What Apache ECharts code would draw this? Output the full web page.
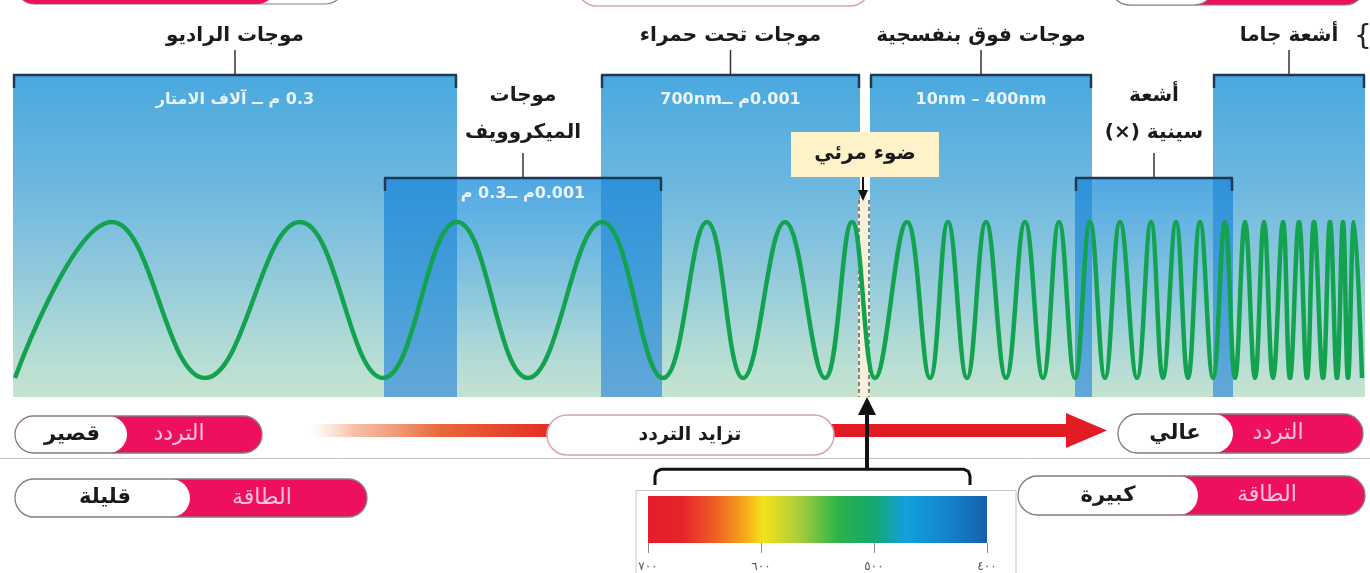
<!DOCTYPE html>
<html><head><meta charset="utf-8">
<script src="https://cdn.jsdelivr.net/npm/echarts@6/dist/echarts.min.js"></script>
<style>html,body{margin:0;padding:0;background:#fff}#c{width:1370px;height:573px}</style>
</head><body><div id="c"></div>
<script>
// ---------------- data ----------------
const bandNames  = ['موجات الراديو', 'موجات\nالميكروويف', 'موجات تحت حمراء', 'موجات فوق بنفسجية', 'أشعة\nسينية (×)', 'أشعة جاما'];
const bandRanges = ['0.3 م ــ آلاف الامتار', '0.001م ــ0.3 م', '0.001م ــ700nm', '10nm – 400nm', '', ''];
const bandStart  = [13, 384, 601, 870, 1075, 1213];
const bandEnd    = [457, 662, 860, 1092, 1233, 1365];
const bandTier   = [0, 1, 0, 0, 1, 0];
const visibleBand  = [858, 870];
const visibleLabel = 'ضوء مرئي';
const crestX  = [112, 300, 457, 602, 707, 785, 852, 907, 948, 986, 1025, 1059, 1090, 1120, 1151, 1176, 1200, 1225, 1245, 1264, 1283, 1299, 1314, 1330, 1343, 1354];
const troughX = [15, 205, 383, 528, 663, 743, 825, 875, 930, 967, 1006, 1043, 1075, 1105, 1137, 1163, 1188, 1213, 1235, 1255, 1273, 1290, 1307, 1323, 1337, 1348, 1362];
const spectrumTicks = [700, 600, 500, 400];
const rowTitles  = ['التردد', 'الطاقة'];
const lowValues  = ['قصير', 'قليلة'];
const highValues = ['عالي', 'كبيرة'];
const trendLabel = 'تزايد التردد';

// ---------------- layout / style ----------------
const W = 1370, H = 573;
const tierTop = [75, 178];
const bandBottom = 397;
const FONT = "'DejaVu Sans', 'Noto Sans', sans-serif";
const PINK = '#ee0f5e';
const rtl = s => s.split('\n').map(l => '\u202B' + l + '\u202C').join('\n');
const arDigits = v => String(v).replace(/\d/g, d => '٠١٢٣٤٥٦٧٨٩'[d]);
const LG = (x, y, x2, y2, stops, g) => ({type:'linear', x, y, x2, y2, colorStops:stops, global:!!g});

const upperStops = [{offset:0,color:'#4aa8de'},{offset:0.35,color:'#6db8e0'},{offset:0.6,color:'#8fc8dc'},{offset:0.85,color:'#b2dbd5'},{offset:1,color:'#c6e4d0'}];
const lowerStops = [{offset:0,color:'#4ea8e4'},{offset:0.4,color:'#7cbfe0'},{offset:0.8,color:'#afd9d7'},{offset:1,color:'#c3e2d2'}];
const overlapStops = [{offset:0,color:'#2f92da'},{offset:0.5,color:'#449ed9'},{offset:1,color:'#62a8d8'}];
const spectrumStops = [
  {offset:0,color:'#e31d2a'},{offset:0.1,color:'#e6232a'},{offset:0.2,color:'#ef5f24'},{offset:0.27,color:'#f49a1c'},
  {offset:0.34,color:'#f4e21a'},{offset:0.45,color:'#a5cd3b'},{offset:0.56,color:'#2cb34a'},{offset:0.66,color:'#15a86a'},
  {offset:0.76,color:'#11a0dc'},{offset:0.88,color:'#1484cf'},{offset:1,color:'#1560aa'}];

// ---------------- derived ----------------
const bandData = bandStart.map((s, i) => [s, bandEnd[i], bandTier[i], i]);
const overlapData = [];
for (let i = 0; i < bandStart.length; i++) for (let j = i + 1; j < bandStart.length; j++) {
  const a = Math.max(bandStart[i], bandStart[j]), b = Math.min(bandEnd[i], bandEnd[j]);
  if (b > a && bandTier[i] !== bandTier[j]) overlapData.push([a, b]);
}
const wavePts = crestX.map(x => [x, 1]).concat(troughX.map(x => [x, -1])).sort((p, q) => p[0] - q[0]);

function rectFrom(api, x0, y0, x1, y1) {
  const p0 = api.coord([x0, y0]), p1 = api.coord([x1, y1]);
  return {x: p0[0], y: p0[1], width: p1[0] - p0[0], height: p1[1] - p0[1]};
}

// ---------------- decorations (graphic) ----------------
const G = [];
function pill(x, y, w, h, whiteW, whiteText, pinkText, whiteCx, pinkCx) {
  const r = h / 2;
  G.push({type:'rect', z:50, shape:{x, y, width:w, height:h, r}, style:{fill:PINK}});
  G.push({type:'rect', z:51, shape:{x, y, width:whiteW, height:h, r}, style:{fill:'#fff'}});
  G.push({type:'rect', z:52, shape:{x, y, width:w, height:h, r}, style:{fill:'none', stroke:'#8a7a80', lineWidth:1.3}});
  if (whiteText) G.push({type:'text', z:53, style:{text:rtl(whiteText), x:whiteCx, y:y + h/2, fill:'#1a1a1a', font:`bold 21px ${FONT}`, align:'center', verticalAlign:'middle'}});
  if (pinkText) G.push({type:'text', z:53, style:{text:rtl(pinkText), x:pinkCx, y:y + h/2, fill:'#fbc3d4', font:`22px ${FONT}`, align:'center', verticalAlign:'middle'}});
}
// separator line
G.push({type:'line', z:10, shape:{x1:0, y1:458.5, x2:W, y2:458.5}, style:{stroke:'#c4c4c4', lineWidth:1}});
// cut-off pills at the very top
G.push({type:'rect', z:50, shape:{x:15, y:-36, width:330, height:40, r:20}, style:{fill:'#fff', stroke:'#8a7a80', lineWidth:1.2}});
G.push({type:'rect', z:51, shape:{x:15, y:-36, width:262, height:40, r:20}, style:{fill:PINK}});
G.push({type:'rect', z:50, shape:{x:577, y:-34, width:293, height:40, r:20}, style:{fill:'#fff', stroke:'#d6a4b2', lineWidth:1.5}});
G.push({type:'rect', z:50, shape:{x:1110, y:-35, width:255, height:40, r:20}, style:{fill:PINK, stroke:'#8a7a80', lineWidth:1.2}});
G.push({type:'rect', z:51, shape:{x:1110, y:-35, width:104, height:40, r:20}, style:{fill:'#fff', stroke:'#8a7a80', lineWidth:1.2}});
G.push({type:'text', z:53, style:{text:'{', x:1363, y:38, fill:'#222', font:`28px ${FONT}`, align:'center', verticalAlign:'middle'}});
// red "increasing frequency" arrow
G.push({type:'rect', z:40, shape:{x:310, y:424, width:760, height:13}, style:{fill:LG(310, 0, 600, 0, [
  {offset:0,color:'rgba(245,190,150,0)'},{offset:0.15,color:'rgba(240,150,110,0.6)'},{offset:0.45,color:'#e8683a'},{offset:0.85,color:'#e42a24'},{offset:1,color:'#e31b23'}], true)}});
G.push({type:'polygon', z:40, shape:{points:[[1066,413],[1107,430.5],[1066,448]]}, style:{fill:'#e31b23'}});
G.push({type:'rect', z:50, shape:{x:547, y:415, width:287, height:40, r:20}, style:{fill:'#fff', stroke:'#d8a2b2', lineWidth:1.5}});
G.push({type:'text', z:53, style:{text:rtl(trendLabel), x:690, y:435, fill:'#1a1a1a', font:`bold 19px ${FONT}`, align:'center', verticalAlign:'middle'}});
// pills
pill(15, 416, 247, 37, 112, lowValues[0], rowTitles[0], 72, 179);
pill(15, 479, 352, 38, 175, lowValues[1], rowTitles[1], 105, 262);
pill(1118, 414, 245, 39, 115, highValues[0], rowTitles[0], 1175, 1278);
pill(1018, 476, 347, 39, 180, highValues[1], rowTitles[1], 1108, 1267);
// spectrum frame, bracket and black arrow
G.push({type:'rect', z:1, shape:{x:636, y:490.5, width:380, height:100}, style:{fill:'none', stroke:'#c6c6c6', lineWidth:1}});
G.push({type:'polyline', z:60, shape:{points:[[655,485],[655,476],[656.5,471.5],[661,469.3],[964,469.3],[968.5,471.5],[970,476],[970,485]]}, style:{fill:'none', stroke:'#111', lineWidth:3}});
G.push({type:'line', z:60, shape:{x1:867, y1:469, x2:867, y2:412}, style:{stroke:'#111', lineWidth:4}});
G.push({type:'polygon', z:60, shape:{points:[[858,415],[867,397],[876,415]]}, style:{fill:'#111'}});

// ---------------- chart ----------------
const chart = echarts.init(document.getElementById('c'));
chart.setOption({
  animation: false,
  backgroundColor: '#fff',
  grid: [
    {left:0, right:0, top:0, bottom:0},
    {left:0, right:0, top:222, height:156},
    {left:648, top:496, width:339, height:49}
  ],
  xAxis: [
    {gridIndex:0, type:'value', min:0, max:W, show:false},
    {gridIndex:1, type:'value', min:0, max:W, show:false},
    {gridIndex:2, type:'value', min:400, max:700, interval:100, inverse:true, z:20,
     axisLine:{show:true, lineStyle:{color:'rgba(0,0,0,0)'}}, splitLine:{show:false},
     axisTick:{show:true, length:10, lineStyle:{color:'#8a8a8a'}},
     axisLabel:{formatter:arDigits, color:'#555', fontSize:12, margin:18, fontFamily:FONT}}
  ],
  yAxis: [
    {gridIndex:0, type:'value', min:0, max:H, inverse:true, show:false},
    {gridIndex:1, type:'value', min:-1, max:1, show:false},
    {gridIndex:2, type:'value', min:0, max:1, show:false}
  ],
  graphic: G,
  series: [
    { // band fills
      type:'custom', xAxisIndex:0, yAxisIndex:0, z:1, silent:true, data:bandData,
      renderItem: (p, api) => {
        const t = api.value(2);
        return {type:'rect', shape:rectFrom(api, api.value(0), tierTop[t], api.value(1), bandBottom),
          style:{fill:LG(0,0,0,1, t === 0 ? upperStops : lowerStops)}};
      }
    },
    { // overlaps
      type:'custom', xAxisIndex:0, yAxisIndex:0, z:2, silent:true, data:overlapData,
      renderItem: (p, api) => ({type:'rect', shape:rectFrom(api, api.value(0), tierTop[1], api.value(1), bandBottom),
        style:{fill:LG(0,0,0,1, overlapStops)}})
    },
    { // visible light strip
      type:'custom', xAxisIndex:0, yAxisIndex:0, z:3, silent:true, data:[visibleBand],
      renderItem: (p, api) => {
        const r = rectFrom(api, api.value(0), 200, api.value(1), bandBottom);
        return {type:'group', children:[
          {type:'rect', shape:r, style:{fill:'#f6f1dc'}},
          {type:'line', shape:{x1:r.x + 1, y1:r.y, x2:r.x + 1, y2:r.y + r.height}, style:{stroke:'#5d5d50', lineWidth:1.5, lineDash:[4,3]}},
          {type:'line', shape:{x1:r.x + r.width - 1, y1:r.y, x2:r.x + r.width - 1, y2:r.y + r.height}, style:{stroke:'#5d5d50', lineWidth:1.5, lineDash:[4,3]}}
        ]};
      }
    },
    { // wave
      type:'line', xAxisIndex:1, yAxisIndex:1, z:4, silent:true, data:wavePts,
      smooth:0.42, showSymbol:false, lineStyle:{color:'#13a24f', width:4.5}
    },
    { // brackets and labels
      type:'custom', xAxisIndex:0, yAxisIndex:0, z:5, silent:true, data:bandData,
      renderItem: (p, api) => {
        const s = api.value(0), e = api.value(1), t = api.value(2), i = api.value(3);
        const top = tierTop[t];
        const a = api.coord([s, top]), b = api.coord([e, top]);
        const cx = (a[0] + b[0]) / 2, y = a[1];
        const twoLines = bandNames[i].indexOf('\n') >= 0;
        const kids = [
          {type:'line', shape:{x1:a[0], y1:y, x2:b[0], y2:y}, style:{stroke:'#1c3a56', lineWidth:2.5}},
          {type:'line', shape:{x1:a[0] + 1, y1:y, x2:a[0] + 1, y2:y + 13}, style:{stroke:'#1c3a56', lineWidth:2.5}},
          {type:'line', shape:{x1:b[0] - 1, y1:y, x2:b[0] - 1, y2:y + 13}, style:{stroke:'#1c3a56', lineWidth:2.5}},
          {type:'line', shape:{x1:cx, y1:y - 25, x2:cx, y2:y}, style:{stroke:'#333', lineWidth:1.5}},
          twoLines
            ? {type:'text', style:{text:rtl(bandNames[i]), x:cx, y:y - 27, fill:'#1a1a1a', font:`bold 20px ${FONT}`, lineHeight:37, align:'center', verticalAlign:'bottom'}}
            : {type:'text', style:{text:rtl(bandNames[i]), x:cx, y:y - 39, fill:'#1a1a1a', font:`bold 20px ${FONT}`, align:'center', verticalAlign:'middle'}}
        ];
        if (bandRanges[i]) kids.push({type:'text', style:{text:rtl(bandRanges[i]), x:cx, y:y + (t === 0 ? 25 : 16), fill:'#eaf4fb', font:`bold 16px ${FONT}`, align:'center', verticalAlign:'middle'}});
        return {type:'group', children:kids};
      }
    },
    { // visible light label
      type:'custom', xAxisIndex:0, yAxisIndex:0, z:6, silent:true, data:[visibleBand],
      renderItem: (p, api) => {
        const c = api.coord([(api.value(0) + api.value(1)) / 2, 132]);
        const cx = c[0] + 1;
        return {type:'group', children:[
          {type:'rect', shape:{x:cx - 74, y:c[1], width:148, height:45}, style:{fill:'#fdf2c8'}},
          {type:'text', style:{text:rtl(visibleLabel), x:cx, y:c[1] + 22, fill:'#1a1a1a', font:`bold 20px ${FONT}`, align:'center', verticalAlign:'middle'}},
          {type:'line', shape:{x1:cx - 2, y1:c[1] + 45, x2:cx - 2, y2:c[1] + 60}, style:{stroke:'#111', lineWidth:2}},
          {type:'polygon', shape:{points:[[cx - 7, c[1] + 58], [cx + 3, c[1] + 58], [cx - 2, c[1] + 69]]}, style:{fill:'#111'}}
        ]};
      }
    },
    { // visible spectrum colour bar
      type:'custom', xAxisIndex:2, yAxisIndex:2, z:5, silent:true, data:[[spectrumTicks[0], spectrumTicks[spectrumTicks.length - 1]]],
      renderItem: (p, api) => ({type:'rect', shape:rectFrom(api, api.value(0), 1, api.value(1), 0),
        style:{fill:LG(0,0,1,0, spectrumStops)}})
    }
  ]
});
</script></body></html>
